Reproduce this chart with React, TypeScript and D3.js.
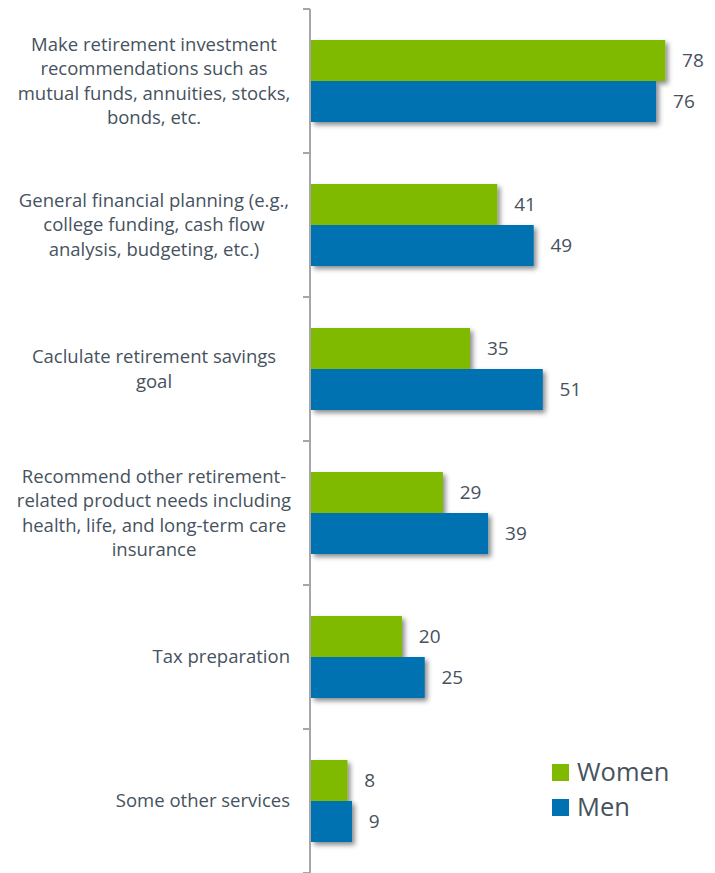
import React from "react";
import * as d3 from "d3";

const categories: string[][] = [
  ["Make retirement investment", "recommendations such as", "mutual funds, annuities, stocks,", "bonds, etc."],
  ["General financial planning (e.g.,", "college funding, cash flow", "analysis, budgeting, etc.)"],
  ["Caclulate retirement savings", "goal"],
  ["Recommend other retirement-", "related product needs including", "health, life, and long-term care", "insurance"],
  ["Tax preparation"],
  ["Some other services"],
];
const women = [78, 41, 35, 29, 20, 8];
const men = [76, 49, 51, 39, 25, 9];
const seriesNames = ["Women", "Men"];
const colors = ["#7FBA00", "#0071B1"];

const W = 715;
const H = 873;
const FONT = "'Open Sans', sans-serif";
const TEXT = "#46525e";

export default function App() {
  const ids = categories.map((_, i) => String(i));
  const y = d3.scaleBand<string>().domain(ids).range([9, 873]).paddingInner(0).paddingOuter(0);
  const x = d3.scaleLinear().domain([0, 100]).range([311, 765]);
  const sub = d3
    .scaleBand<string>()
    .domain(seriesNames)
    .range([0, y.bandwidth()])
    .paddingInner(0)
    .paddingOuter(0.756);
  const data = [women, men];
  const ticks = [...ids.map((id) => y(id)!), 873];

  return (
    <svg
      width={W}
      height={H}
      style={{ position: "absolute", left: 0, top: 0, background: "#fff" }}
      fontFamily={FONT}
    >
      <defs>
        <filter id="shadow" x="-10%" y="-20%" width="130%" height="160%">
          <feDropShadow dx="3" dy="3" stdDeviation="2.5" floodColor="#000" floodOpacity="0.45" />
        </filter>
      </defs>
      {ids.map((id, i) =>
        seriesNames.map((s, si) => {
          const v = data[si][i];
          const by = y(id)! + sub(s)!;
          return (
            <rect
              key={id + s}
              x={x(0)}
              y={by}
              width={x(v) - x(0)}
              height={sub.bandwidth()}
              fill={colors[si]}
              filter="url(#shadow)"
            />
          );
        })
      )}
      {ids.map((id, i) =>
        seriesNames.map((s, si) => {
          const v = data[si][i];
          const by = y(id)! + sub(s)!;
          return (
            <g key={"l" + id + s}>
              <rect x={x(0)} y={by} width={x(v) - x(0)} height={sub.bandwidth()} fill={colors[si]} />
              <text
                x={x(v) + 17}
                y={by + sub.bandwidth() / 2}
                dy="0.35em"
                fontSize={19}
                fill={TEXT}
              >
                {v}
              </text>
            </g>
          );
        })
      )}
      <line x1={310} x2={310} y1={9} y2={873} stroke="#a6a6a6" strokeWidth={2} />
      {ticks.map((t, i) => (
        <line key={i} x1={303} x2={310} y1={t} y2={t} stroke="#a6a6a6" strokeWidth={2} />
      ))}
      {ids.map((id, i) => {
        const lines = categories[i];
        const cy = y(id)! + y.bandwidth() / 2;
        const lh = 24.5;
        const start = cy - ((lines.length - 1) * lh) / 2;
        const single = lines.length === 1;
        return (
          <text
            key={"c" + id}
            textAnchor={single ? "end" : "middle"}
            fontSize={18.5}
            fill={TEXT}
          >
            {lines.map((ln, k) => (
              <tspan key={k} x={single ? 290 : 154} y={start + k * lh} dy="0.35em">
                {ln}
              </tspan>
            ))}
          </text>
        );
      })}
      {seriesNames.map((s, si) => (
        <g key={"lg" + s} transform={`translate(552, ${764 + si * 35})`}>
          <rect x={0} y={0} width={17} height={17} fill={colors[si]} />
          <text x={25} y={17} fontSize={25.5} fill={TEXT}>
            {s}
          </text>
        </g>
      ))}
    </svg>
  );
}
